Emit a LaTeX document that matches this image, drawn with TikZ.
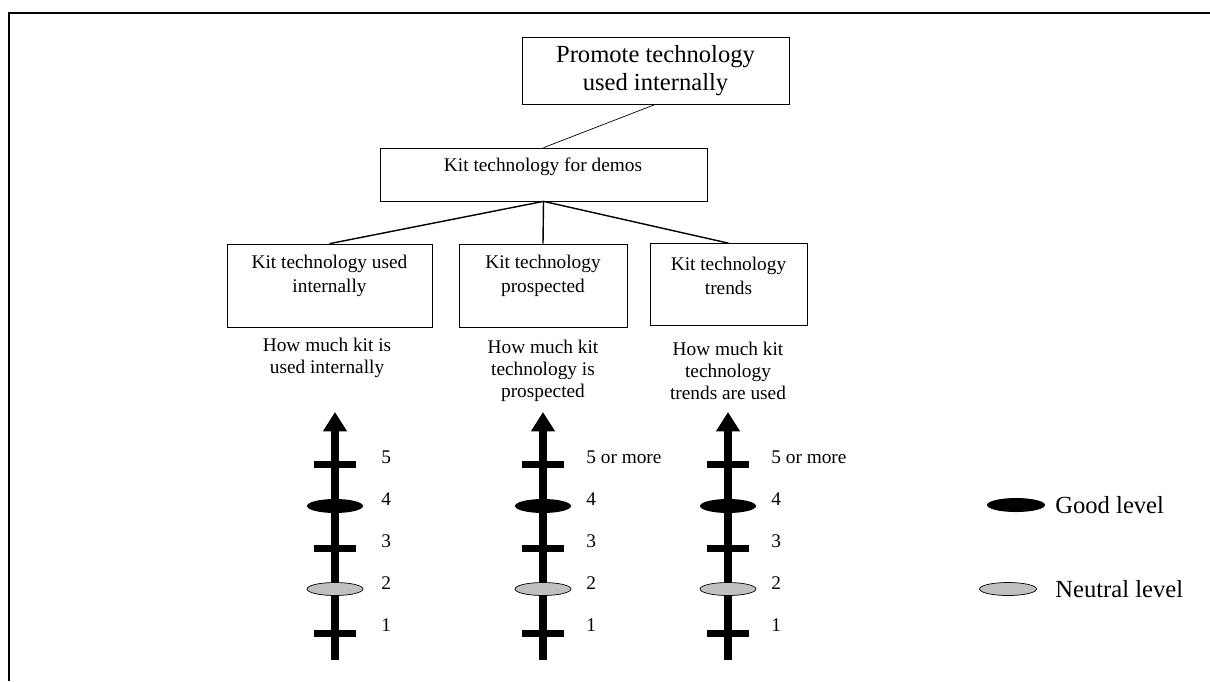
\documentclass[tikz,border=0pt]{standalone}
\usepackage{fontspec}
\setmainfont{Liberation Serif}
\usetikzlibrary{arrows.meta,shapes.geometric}
\definecolor{neutralgray}{RGB}{192,192,192}

\tikzset{
  box/.style={draw, rectangle, inner sep=0pt},
  bigtext/.style={font=\fontsize{14}{16}\selectfont, align=center},
  boxtext/.style={font=\fontsize{11}{13.5}\selectfont, align=center},
  undertext/.style={font=\fontsize{11}{12.5}\selectfont, align=center},
  axisline/.style={line width=4.5pt, -{Triangle[width=13pt,length=11pt]}},
  tickbar/.style={fill, rectangle, minimum width=8.4mm, minimum height=1.4mm, inner sep=0pt},
  goodmark/.style={ellipse, fill=black, minimum width=11.2mm, minimum height=2.8mm, inner sep=0pt},
  neutralmark/.style={ellipse, draw, fill=neutralgray, minimum width=11.2mm, minimum height=2.6mm, inner sep=0pt},
  num/.style={anchor=west, font=\fontsize{11}{13}\selectfont, inner sep=0pt},
}

\begin{document}
\begin{tikzpicture}[x=0.02cm, y=-0.02cm]
    \useasboundingbox (0,0) rectangle (1210,681);

    % frame
    \draw[line width=1.1pt] (9,681) -- (9,13) -- (1210,13);

    % Goal and sub-goal
    \node[box, bigtext, minimum width=5.34cm, minimum height=1.34cm] (goal) at (655.5,70.5)
      {Promote technology\\used internally};
    \node[box, minimum width=6.54cm, minimum height=1.06cm] (demos) at (543.5,174.5) {};
    \node[boxtext] at (543,167) {Kit technology for demos};
    \draw (goal.south) -- (demos.north);

    % Criteria
    \node[box, minimum width=4.1cm, minimum height=1.66cm] (used) at (329.5,285.5) {};
    \node[box, minimum width=3.36cm, minimum height=1.66cm] (prosp) at (543,285.5) {};
    \node[box, minimum width=3.14cm, minimum height=1.64cm] (trends) at (728.5,284.5) {};
    \node[boxtext] at (329.5,276) {Kit technology used\\internally};
    \node[boxtext] at (543,276) {Kit technology\\prospected};
    \node[boxtext] at (728.5,276) {Kit technology\\trends};
    \draw[thick] (demos.south) -- (used.north);
    \draw[thick] (demos.south) -- (prosp.north);
    \draw[thick] (demos.south) -- (trends.north);

    % Descriptors
    \node[undertext] at (327,357.5) {How much kit is\\used internally};
    \node[undertext] at (543,371) {How much kit\\technology is\\prospected};
    \node[undertext] at (728,371) {How much kit\\technology\\trends are used};

    % Scale 1 - used internally
    \begin{scope}[shift={(335,0)}]
      \coordinate (s1bot) at (0,660);
      \coordinate (s1top) at (0,412);
      \draw[axisline] (s1bot) -- (s1top);
      \node[tickbar] (s1t5) at (0,464) {};
      \node[tickbar] (s1t3) at (0,548) {};
      \node[tickbar] (s1t1) at (0,633) {};
      \node[goodmark] (s1good) at (0,506) {};
      \node[neutralmark] (s1neu) at (0,589) {};
      \node[num] at (46,457) {5};
      \node[num] at (46,499) {4};
      \node[num] at (46,541) {3};
      \node[num] at (46,583) {2};
      \node[num] at (46,625) {1};
    \end{scope}

    % Scale 2 - prospected
    \begin{scope}[shift={(543,0)}]
      \coordinate (s2bot) at (0,660);
      \coordinate (s2top) at (0,412);
      \draw[axisline] (s2bot) -- (s2top);
      \node[tickbar] (s2t5) at (0,464) {};
      \node[tickbar] (s2t3) at (0,548) {};
      \node[tickbar] (s2t1) at (0,633) {};
      \node[goodmark] (s2good) at (0,506) {};
      \node[neutralmark] (s2neu) at (0,589) {};
      \node[num] at (43,457) {5 or more};
      \node[num] at (43,499) {4};
      \node[num] at (43,541) {3};
      \node[num] at (43,583) {2};
      \node[num] at (43,625) {1};
    \end{scope}

    % Scale 3 - trends
    \begin{scope}[shift={(728,0)}]
      \coordinate (s3bot) at (0,660);
      \coordinate (s3top) at (0,412);
      \draw[axisline] (s3bot) -- (s3top);
      \node[tickbar] (s3t5) at (0,464) {};
      \node[tickbar] (s3t3) at (0,548) {};
      \node[tickbar] (s3t1) at (0,633) {};
      \node[goodmark] (s3good) at (0,506) {};
      \node[neutralmark] (s3neu) at (0,589) {};
      \node[num] at (43,457) {5 or more};
      \node[num] at (43,499) {4};
      \node[num] at (43,541) {3};
      \node[num] at (43,583) {2};
      \node[num] at (43,625) {1};
    \end{scope}

    % Legend
    \node[goodmark, minimum width=11.6mm] (goodkey) at (1016,505) {};
    \node[bigtext, anchor=west, inner sep=0pt] (goodlbl) at (1055,505) {Good level};
    \node[neutralmark, minimum width=11.4mm] (neukey) at (1008,589) {};
    \node[bigtext, anchor=west, inner sep=0pt] (neulbl) at (1055,589) {Neutral level};

  \end{tikzpicture}
\end{document}
